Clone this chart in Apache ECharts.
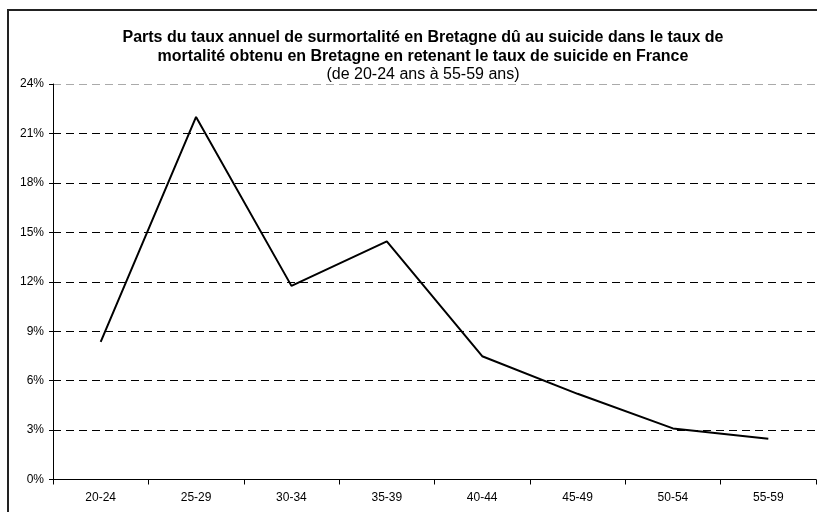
<!DOCTYPE html>
<html>
<head>
<meta charset="utf-8">
<script src="https://cdn.jsdelivr.net/npm/echarts@6/dist/echarts.min.js"></script>
<style>html,body{margin:0;padding:0;background:#fff;}#c{width:817px;height:512px;}</style>
</head>
<body>
<div id="c"></div>
<script>
const categories = ['20-24','25-29','30-34','35-39','40-44','45-49','50-54','55-59'];
const values = [8.35, 22.0, 11.75, 14.45, 7.48, 5.2, 3.1, 2.47];
const yTicks = [0, 3, 6, 9, 12, 15, 18, 21, 24];
const titleLines = ['Parts du taux annuel de surmortalité en Bretagne dû au suicide dans le taux de',
                    'mortalité obtenu en Bretagne en retenant le taux de suicide en France'];
const subtitle = '(de 20-24 ans à 55-59 ans)';

const chart = echarts.init(document.getElementById('c'), null, {renderer: 'canvas'});
const FONT = 'Liberation Sans, Arial, sans-serif';
const gridColors = yTicks.map((v, i) => i === yTicks.length - 1 ? '#aaa' : '#000');
chart.setOption({
  animation: false,
  backgroundColor: '#fff',
  title: {
    text: titleLines.join('\n'),
    subtext: subtitle,
    left: 418,
    textAlign: 'center',
    top: 23,
    itemGap: -1,
    textStyle: {fontFamily: FONT, fontSize: 16, fontWeight: 'bold', color: '#000', lineHeight: 19},
    subtextStyle: {fontFamily: FONT, fontSize: 16, color: '#000', lineHeight: 19}
  },
  graphic: [{
    type: 'rect', z: -1, silent: true,
    shape: {x: 8, y: 10, width: 900, height: 600},
    style: {fill: 'none', stroke: '#222', lineWidth: 2}
  }],
  grid: {left: 53, right: 1, top: 84, bottom: 32.5, containLabel: false},
  xAxis: {
    type: 'category',
    data: categories,
    boundaryGap: true,
    axisLine: {show: true, lineStyle: {color: '#000', width: 1}},
    axisTick: {show: true, interval: 0, length: 5, lineStyle: {color: '#000'}},
    axisLabel: {interval: 0, fontFamily: FONT, fontSize: 12, color: '#000', margin: 12},
    splitLine: {show: false}
  },
  yAxis: {
    type: 'value',
    min: 0, max: 24, interval: 3,
    axisLine: {show: true, lineStyle: {color: '#000', width: 1}},
    axisTick: {show: true, length: 4, lineStyle: {color: '#000'}},
    axisLabel: {formatter: '{value}%', fontFamily: FONT, fontSize: 12, color: '#000', margin: 9},
    splitLine: {show: true, lineStyle: {color: gridColors, type: [8, 5], width: 1}}
  },
  series: [{
    type: 'line',
    data: values,
    symbol: 'none',
    lineStyle: {color: '#000', width: 2},
    itemStyle: {color: '#000'}
  }]
});
</script>
</body>
</html>
